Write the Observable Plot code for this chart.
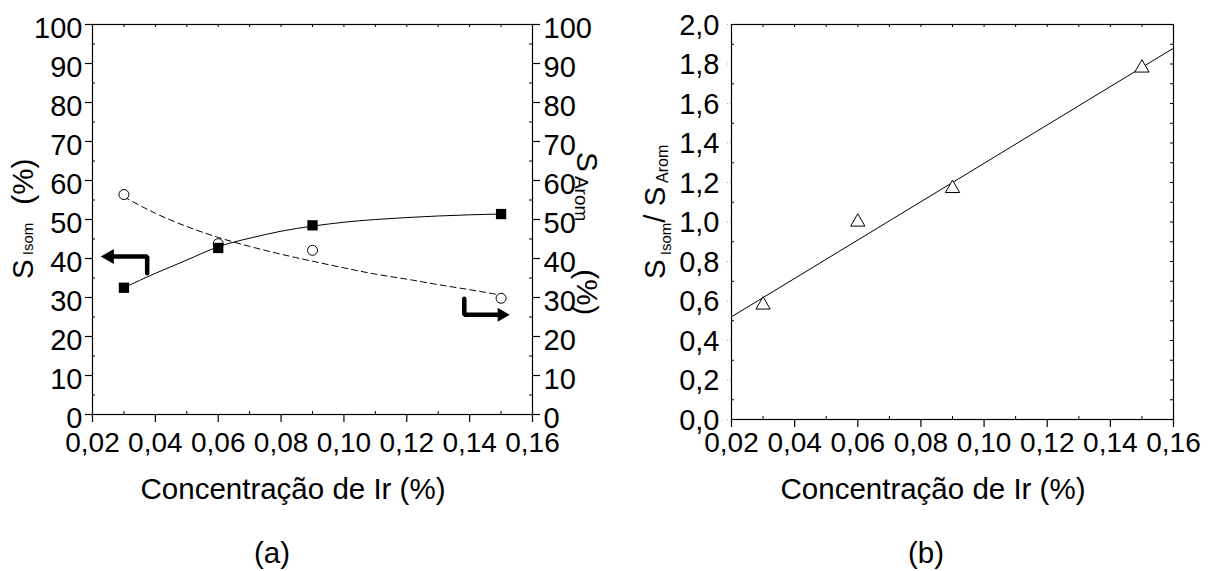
<!DOCTYPE html>
<html>
<head>
<meta charset="utf-8">
<script src="https://cdn.jsdelivr.net/npm/d3@7"></script>
<script src="https://cdn.jsdelivr.net/npm/@observablehq/plot@0.6"></script>
<style>
  body { margin: 0; background: #fff; }
  #wrap { position: relative; width: 1214px; height: 571px; background: #fff; }
  #wrap svg { position: absolute; top: 0; }
</style>
</head>
<body>
<div id="wrap"></div>
<script>
// Ir loading (%) of the four catalysts
const concentration = [0.03, 0.06, 0.09, 0.15];
// isomerisation selectivity (%) - filled squares, left axis
const sIsom = [32.5, 42.7, 48.5, 51.4];
// aromatisation selectivity (%) - open circles, right axis
const sArom = [56.4, 43.8, 42.1, 29.8];
// selectivity ratio S_Isom / S_Arom - open triangles
const ratio = [0.58, 1.0, 1.17, 1.78];

// trend curves drawn through the points
const isomFitX = [0.03, 0.04, 0.05, 0.06, 0.07, 0.08, 0.09, 0.10, 0.11, 0.12, 0.13, 0.14, 0.15];
const isomFitY = [32.5, 36.2, 39.6, 43.0, 45.2, 47.0, 48.3, 49.3, 50.0, 50.5, 50.9, 51.2, 51.4];
const aromFitX = [0.03, 0.04, 0.05, 0.06, 0.07, 0.08, 0.09, 0.10, 0.11, 0.12, 0.13, 0.14, 0.15];
const aromFitY = [55.8, 51.6, 48.2, 45.4, 43.1, 41.1, 39.3, 37.6, 36.0, 34.7, 33.3, 32.0, 30.6];
const ratioFitX = [0.02, 0.16];
const ratioFitY = [0.52, 1.88];

// axis-pointer arrows: bar path and head position
const arrowIsomX = [0.0374, 0.0374, 0.0254];
const arrowIsomY = [36.2, 40.5, 40.5];
const arrowAromX = [0.1383, 0.1383, 0.1502];
const arrowAromY = [29.7, 25.6, 25.6];

// tick values
const xTicks = [0.02, 0.04, 0.06, 0.08, 0.10, 0.12, 0.14, 0.16];
const xMinor = [0.03, 0.05, 0.07, 0.09, 0.11, 0.13, 0.15];
const xTop = [0.03, 0.04, 0.05, 0.06, 0.07, 0.08, 0.09, 0.10, 0.11, 0.12, 0.13, 0.14, 0.15];
const pctTicks = [0, 10, 20, 30, 40, 50, 60, 70, 80, 90, 100];
const pctMinor = [5, 15, 25, 35, 45, 55, 65, 75, 85, 95];
const ratioTicks = [0, 0.2, 0.4, 0.6, 0.8, 1.0, 1.2, 1.4, 1.6, 1.8, 2.0];
const ratioMinor = [0.1, 0.3, 0.5, 0.7, 0.9, 1.1, 1.3, 1.5, 1.7, 1.9];
const ratioAll = [0.1, 0.2, 0.3, 0.4, 0.5, 0.6, 0.7, 0.8, 0.9, 1.0, 1.1, 1.2, 1.3, 1.4, 1.5, 1.6, 1.7, 1.8, 1.9];

const xTitle = "Concentração de Ir (%)";

const FONT = "'Liberation Sans', Arial, Helvetica, sans-serif";
const TICK_X = 28, TICK_Y = 29, TITLE = 29.5;
const comma = p => d => d3.format(`.${p}f`)(d).replace(".", ",");

const points = concentration.map((c, i) => ({c, isom: sIsom[i], arom: sArom[i], ratio: ratio[i]}));
const isomFit = isomFitX.map((c, i) => ({c, v: isomFitY[i]}));
const aromFit = aromFitX.map((c, i) => ({c, v: aromFitY[i]}));
const ratioFit = ratioFitX.map((c, i) => ({c, v: ratioFitY[i]}));
const arrowIsom = arrowIsomX.map((c, i) => ({c, v: arrowIsomY[i]}));
const arrowArom = arrowAromX.map((c, i) => ({c, v: arrowAromY[i]}));

const style = {fontFamily: FONT, fontSize: "28px", color: "black", background: "transparent", overflow: "visible"};

// panel (a): both selectivities against Ir loading
const WA = 607, HA = 571;
const mA = {l: 92, r: 75, t: 24, b: 157};
const fwA = WA - mA.l - mA.r, fhA = HA - mA.t - mA.b;
const plotA = Plot.plot({
  width: WA, height: HA,
  marginLeft: mA.l, marginRight: mA.r, marginTop: mA.t, marginBottom: mA.b,
  style,
  x: {domain: [0.02, 0.16]},
  y: {domain: [0, 100]},
  marks: [
    Plot.frame({stroke: "black", strokeWidth: 1.2}),
    Plot.axisX(xTicks, {tickSize: 8, tickPadding: 10, tickFormat: comma(2), fontSize: TICK_X, strokeWidth: 1.2, label: null}),
    Plot.axisY(pctTicks, {anchor: "left", tickSize: 7, fill: "none", strokeWidth: 1.2, label: null}),
    Plot.axisY(pctTicks, {anchor: "left", tickSize: 0, tickPadding: 10, dy: 4, stroke: "none", fontSize: TICK_Y, label: null}),
    Plot.axisY(pctTicks, {anchor: "right", tickSize: 7, fill: "none", strokeWidth: 1.2, label: null}),
    Plot.axisY(pctTicks, {anchor: "right", tickSize: 0, tickPadding: 11, dy: 4, stroke: "none", fontSize: TICK_Y, label: null}),
    Plot.tickY(pctMinor, {y: d => d, insetRight: fwA - 3, stroke: "black"}),
    Plot.tickY(pctMinor, {y: d => d, insetLeft: fwA - 3, stroke: "black"}),
    Plot.tickX(xMinor, {x: d => d, insetTop: fhA - 3, stroke: "black"}),
    Plot.tickX(xTop, {x: d => d, insetBottom: fhA - 3, stroke: "black"}),
    Plot.line(isomFit, {x: "c", y: "v", curve: "natural", stroke: "black", strokeWidth: 1}),
    Plot.line(aromFit, {x: "c", y: "v", curve: "natural", stroke: "black", strokeWidth: 1, strokeDasharray: "6,4"}),
    Plot.dot(points, {x: "c", y: "arom", symbol: "circle", r: 5, stroke: "black", fill: "white", strokeWidth: 1}),
    Plot.dot(points, {x: "c", y: "isom", symbol: "square", r: 5.8, fill: "black", stroke: "none"}),
    Plot.line(arrowIsom, {x: "c", y: "v", stroke: "black", strokeWidth: 4.5, strokeLinejoin: "miter"}),
    Plot.dot(arrowIsom.slice(-1), {x: "c", y: "v", symbol: "triangle", r: 5.6, rotate: -90, fill: "black", stroke: "none"}),
    Plot.line(arrowArom, {x: "c", y: "v", stroke: "black", strokeWidth: 4.5, strokeLinejoin: "miter"}),
    Plot.dot(arrowArom.slice(-1), {x: "c", y: "v", symbol: "triangle", r: 5.2, rotate: 90, fill: "black", stroke: "none"})
  ]
});

// panel (b): ratio of the two selectivities with its linear trend
const WB = 607, HB = 571;
const mB = {l: 124, r: 41, t: 24, b: 152};
const fwB = WB - mB.l - mB.r, fhB = HB - mB.t - mB.b;
const plotB = Plot.plot({
  width: WB, height: HB,
  marginLeft: mB.l, marginRight: mB.r, marginTop: mB.t, marginBottom: mB.b,
  style,
  x: {domain: [0.02, 0.16]},
  y: {domain: [0, 2]},
  marks: [
    Plot.frame({stroke: "black", strokeWidth: 1.2}),
    Plot.axisX(xTicks, {tickSize: 8, tickPadding: 5, tickFormat: comma(2), fontSize: TICK_X, strokeWidth: 1.2, label: null}),
    Plot.axisY(ratioTicks, {anchor: "left", tickSize: 6, fill: "none", stroke: "#aaa", strokeDasharray: "1,2", label: null}),
    Plot.axisY(ratioTicks, {anchor: "left", tickSize: 0, tickPadding: 12, dy: 1, stroke: "none", tickFormat: comma(1), fontSize: TICK_Y, label: null}),
    Plot.tickY(ratioMinor, {y: d => d, insetRight: fwB - 3, stroke: "black"}),
    Plot.tickY(ratioAll, {y: d => d, insetLeft: fwB - 3, stroke: "black"}),
    Plot.tickX(xMinor, {x: d => d, insetTop: fhB - 3, stroke: "black"}),
    Plot.tickX(xTop, {x: d => d, insetBottom: fhB - 3, stroke: "black"}),
    Plot.line(ratioFit, {x: "c", y: "v", stroke: "black", strokeWidth: 1}),
    Plot.dot(points, {x: "c", y: "ratio", symbol: "triangle", r: 5.3, stroke: "black", fill: "white", strokeWidth: 1})
  ]
});

// titles with subscripts are added as plain SVG text
function title(svg, parts, {x, y, rotate = 0, anchor = "middle", size = TITLE}) {
  const t = d3.select(svg).append("text")
    .attr("transform", `translate(${x},${y}) rotate(${rotate})`)
    .attr("text-anchor", anchor)
    .attr("font-family", FONT)
    .attr("font-size", size)
    .attr("fill", "black");
  for (const p of parts) {
    const s = t.append("tspan").text(p.text);
    if (p.size) s.attr("font-size", p.size);
    if (p.dy) s.attr("dy", p.dy);
    if (p.dx) s.attr("dx", p.dx);
  }
  return t;
}

title(plotA, [{text: "S"}, {text: " Isom", size: 15}, {text: "(%)", dx: 18}], {x: 33, y: 279, rotate: -90, anchor: "start"});
title(plotA, [{text: "S"}, {text: " Arom", size: 19, dy: 2}, {text: "(%)", dx: 48, dy: -2}], {x: 577, y: 152, rotate: 90, anchor: "start"});
title(plotA, [{text: xTitle}], {x: 293, y: 499});
title(plotA, [{text: "(a)"}], {x: 272, y: 563});

title(plotB, [{text: "S"}, {text: " Isom", size: 15, dy: 6}, {text: "/", dy: -6}, {text: " S"}, {text: " Arom", size: 16, dy: 3}], {x: 665 - 607, y: 279, rotate: -90, anchor: "start"});
title(plotB, [{text: xTitle}], {x: 933 - 607, y: 499});
title(plotB, [{text: "(b)"}], {x: 926 - 607, y: 563});

plotA.style.left = "0px";
plotB.style.left = "607px";
const wrap = document.getElementById("wrap");
wrap.appendChild(plotA);
wrap.appendChild(plotB);
</script>
</body>
</html>
